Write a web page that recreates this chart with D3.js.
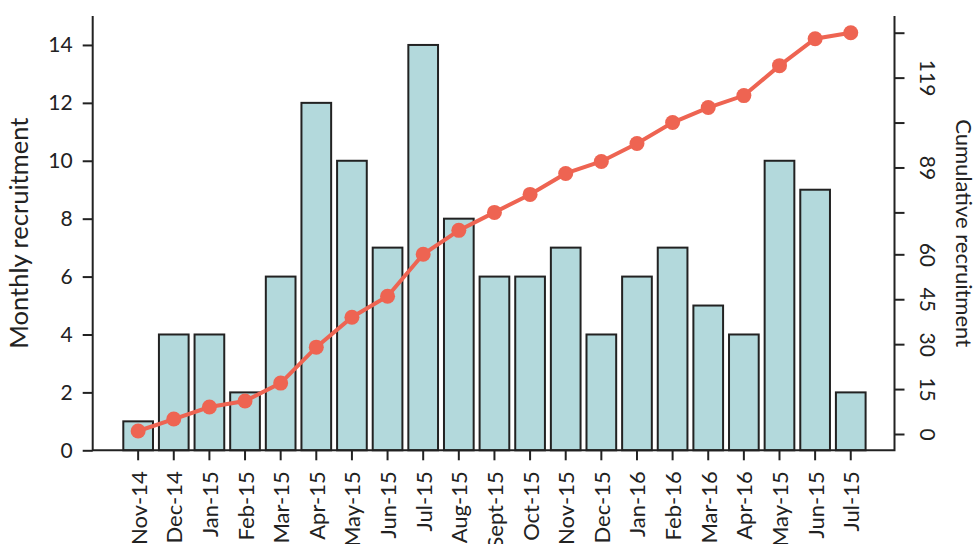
<!DOCTYPE html>
<html>
<head>
<meta charset="utf-8">
<script src="https://cdn.jsdelivr.net/npm/d3@7"></script>
<style>
  html, body { margin: 0; padding: 0; background: #fff; }
  svg { display: block; font-family: Lato, "Open Sans", sans-serif; }
</style>
</head>
<body>
<svg id="chart" width="975" height="544"></svg>
<script>
// Monthly and cumulative recruitment by month
const months = ["Nov-14","Dec-14","Jan-15","Feb-15","Mar-15","Apr-15","May-15","Jun-15",
  "Jul-15","Aug-15","Sept-15","Oct-15","Nov-15","Dec-15","Jan-16","Feb-16","Mar-16",
  "Apr-16","May-15","Jun-15","Jul-15"];
const monthly = [1,4,4,2,6,12,10,7,14,8,6,6,7,4,6,7,5,4,10,9,2];
const cumulative = [1,5,9,11,17,29,39,46,60,68,74,80,87,91,97,104,109,113,123,132,134];
const leftTicks = [0,2,4,6,8,10,12,14];
const rightTicks = [0,15,30,45,60,74,89,104,119,134];
const rightTickLabels = ["0","15","30","45","60","","89","","119",""];

const svg = d3.select("#chart");
const keys = months.map((m, i) => i);

const plot = { left: 92.7, right: 894.5, top: 16, bottom: 450.3 };

const x = d3.scaleBand()
  .domain(keys)
  .range([123.3, 865.6])
  .paddingInner(0.1667)
  .paddingOuter(0);

const yL = d3.scaleLinear().domain([0, 15]).range([plot.bottom, plot.top]);
const yR = d3.scaleLinear().domain([0, 134]).range([434, 32.7]);

// bars
svg.append("g")
  .selectAll("rect")
  .data(monthly)
  .join("rect")
  .attr("x", (d, i) => x(i))
  .attr("y", d => yL(d))
  .attr("width", x.bandwidth())
  .attr("height", d => yL(0) - yL(d))
  .attr("fill", "#b3d9dc")
  .attr("stroke", "#222")
  .attr("stroke-width", 2);

// frame lines: bottom, left, right
svg.append("path")
  .attr("d", `M${plot.left},${plot.top}V${plot.bottom}H${plot.right}V${plot.top}`)
  .attr("fill", "none")
  .attr("stroke", "#222")
  .attr("stroke-width", 2);

// left axis
const gL = svg.append("g").attr("transform", `translate(${plot.left},0)`)
  .call(d3.axisLeft(yL).tickValues(leftTicks).tickSize(10).tickPadding(10));
gL.select(".domain").remove();
gL.selectAll(".tick line").attr("stroke", "#222").attr("stroke-width", 2);
gL.selectAll(".tick text").attr("font-size", 21).attr("fill", "#222")
  .attr("font-family", "Lato, sans-serif");

// right axis
const gR = svg.append("g").attr("transform", `translate(${plot.right},0)`)
  .call(d3.axisRight(yR).tickValues(rightTicks).tickSize(10)
    .tickFormat((d, i) => rightTickLabels[i]));
gR.select(".domain").remove();
gR.selectAll(".tick line").attr("stroke", "#222").attr("stroke-width", 2);
gR.selectAll(".tick text")
  .attr("font-size", 21).attr("fill", "#222")
  .attr("font-family", "Lato, sans-serif")
  .attr("text-anchor", "middle")
  .attr("x", 0).attr("dy", 0)
  .attr("transform", "translate(34,0) rotate(90)")
  .attr("dominant-baseline", "central");

// bottom axis
const gB = svg.append("g").attr("transform", `translate(0,${plot.bottom})`)
  .call(d3.axisBottom(x).tickSize(10).tickFormat(i => months[i]));
gB.select(".domain").remove();
gB.selectAll(".tick line").attr("stroke", "#222").attr("stroke-width", 2);
gB.selectAll(".tick text")
  .attr("font-size", 22).attr("fill", "#222")
  .attr("font-family", "Lato, sans-serif")
  .attr("text-anchor", "end")
  .attr("y", 0).attr("dy", 0)
  .attr("dominant-baseline", "central")
  .attr("transform", "translate(0,21) rotate(-90)");

// cumulative line
const cx = i => x(i) + x.bandwidth() / 2;
svg.append("path")
  .datum(cumulative)
  .attr("d", d3.line().x((d, i) => cx(i)).y(d => yR(d)))
  .attr("fill", "none")
  .attr("stroke", "#ee6452")
  .attr("stroke-width", 4);
svg.append("g")
  .selectAll("circle")
  .data(cumulative)
  .join("circle")
  .attr("cx", (d, i) => cx(i))
  .attr("cy", d => yR(d))
  .attr("r", 7.5)
  .attr("fill", "#ee6452");

// axis titles
svg.append("text")
  .attr("transform", `translate(18,${(plot.top + plot.bottom) / 2}) rotate(-90)`)
  .attr("text-anchor", "middle")
  .attr("dominant-baseline", "central")
  .attr("font-size", 25.5).attr("fill", "#222")
  .text("Monthly recruitment");
svg.append("text")
  .attr("transform", `translate(964,${(plot.top + plot.bottom) / 2}) rotate(90)`)
  .attr("text-anchor", "middle")
  .attr("dominant-baseline", "central")
  .attr("font-size", 22).attr("fill", "#222")
  .text("Cumulative recruitment");
</script>
</body>
</html>
